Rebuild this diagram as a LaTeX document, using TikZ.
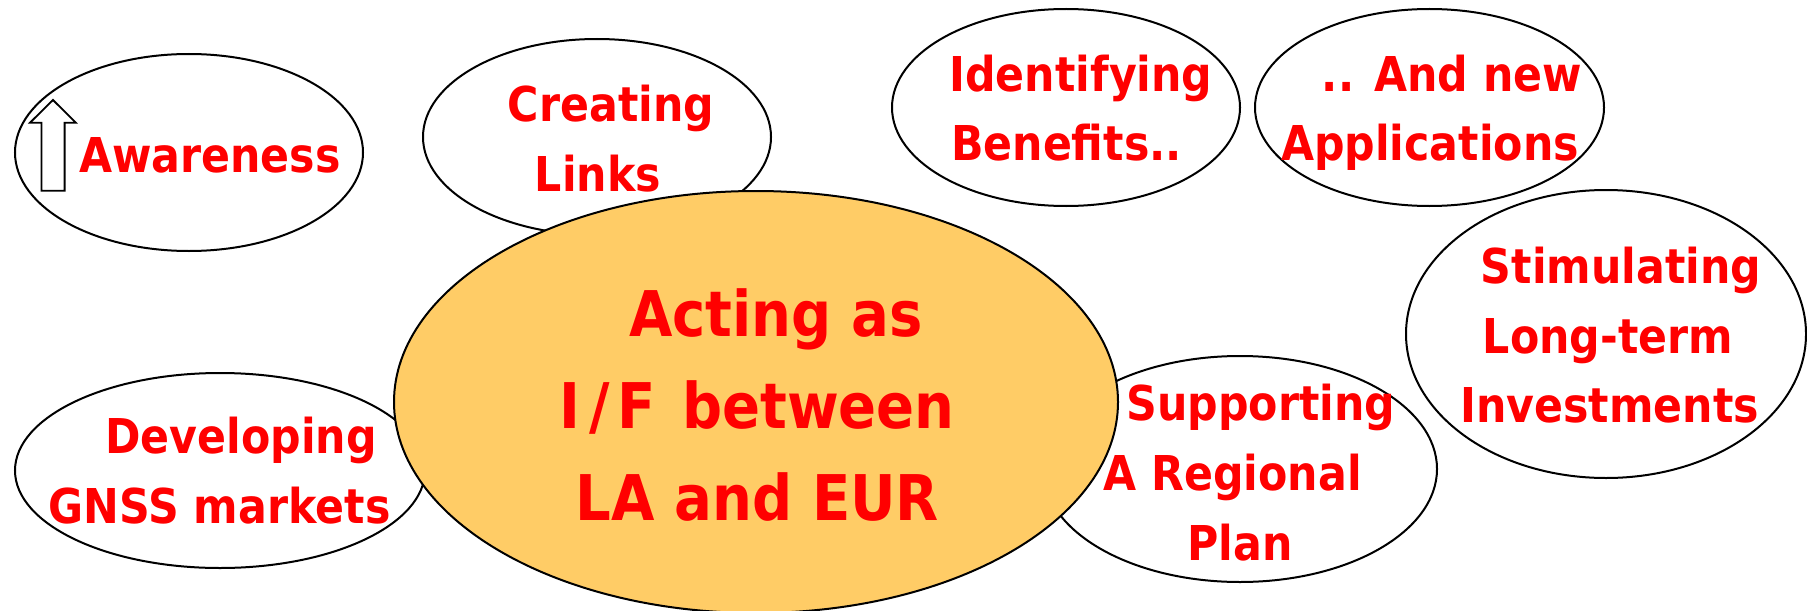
\documentclass[tikz,border=0pt]{standalone}
\usepackage{fontspec}
\usetikzlibrary{shapes.geometric}
\newfontfamily\tf[FakeStretch=0.89]{DejaVu Sans}
\definecolor{bubfill}{HTML}{FFCC66}
\definecolor{txtred}{HTML}{FF0000}
\tikzset{
  bub/.style={ellipse, draw=black, line width=1pt, fill=white, inner sep=0pt, outer sep=0pt},
  core/.style={ellipse, draw=black, line width=1pt, fill=bubfill, inner sep=0pt, outer sep=0pt},
  lbl/.style={anchor=base, inner sep=0pt, text=txtred, font=\tf\bfseries\fontsize{24pt}{24pt}\selectfont},
  biglbl/.style={anchor=base, inner sep=0pt, text=txtred, font=\tf\bfseries\fontsize{31.5pt}{31.5pt}\selectfont},
  uparrow/.style={draw=black, line width=0.9pt, fill=white, line join=miter}
}
\begin{document}
\begin{tikzpicture}[x=0.5pt, y=-0.5pt]
\useasboundingbox (0,0) rectangle (1807,610);
% outer bubbles
\node[bub, minimum width=174pt, minimum height=98.5pt] (aw) at (189,152.5) {};
\node[bub, minimum width=174pt, minimum height=98pt] (cl) at (597,137) {};
\node[bub, minimum width=174pt, minimum height=98.5pt] (ib) at (1066,107.5) {};
\node[bub, minimum width=174.5pt, minimum height=98.5pt] (an) at (1429.5,107.5) {};
\node[bub, minimum width=200pt, minimum height=144pt] (st) at (1606,334) {};
\node[bub, minimum width=205pt, minimum height=97.5pt] (dg) at (220,470.5) {};
\node[bub, minimum width=197pt, minimum height=113pt] (sp) at (1240,469) {};
% central bubble
\node[core, minimum width=362pt, minimum height=211pt] (ce) at (756,402) {};
% arrow in awareness bubble
\draw[uparrow] (41.5,190.7) -- (64.6,190.7) -- (64.6,122.7) -- (75.8,122.7)
  -- (53,100) -- (30,122.7) -- (41.5,122.7) -- cycle;
% labels
\node[lbl] (awt) at (210,172) {Awareness};
\node[lbl] (clt1) at (611,121.7) {Creating};
\node[lbl] (clt2) at (598,191) {Links};
\node[lbl] (ibt1) at (1081,91.7) {Identifying};
\node[lbl] (ibt2) at (1066.5,160.7) {Benefits..};
\node[lbl] (ant1) at (1452,91.7) {.. And new};
\node[lbl] (ant2) at (1430,160.7) {Applications};
\node[lbl] (stt1) at (1621,283.3) {Stimulating};
\node[lbl] (stt2) at (1608,353.3) {Long-term};
\node[lbl] (stt3) at (1609.5,422.3) {Investments};
\node[lbl] (dgt1) at (241,453.3) {Developing};
\node[lbl] (dgt2) at (219.6,523) {GNSS markets};
\node[lbl] (spt1) at (1261,420) {Supporting};
\node[lbl] (spt2) at (1232.5,490) {A Regional};
\node[lbl] (spt3) at (1240,560) {Plan};
\node[biglbl] (cet1) at (776,336) {Acting as};
\node[biglbl] (cet2) at (757,428) {I\kern5pt/\kern3.5pt F\kern3.5pt\ between};
\node[biglbl] (cet3) at (757.5,520) {LA and EUR};
\end{tikzpicture}
\end{document}
